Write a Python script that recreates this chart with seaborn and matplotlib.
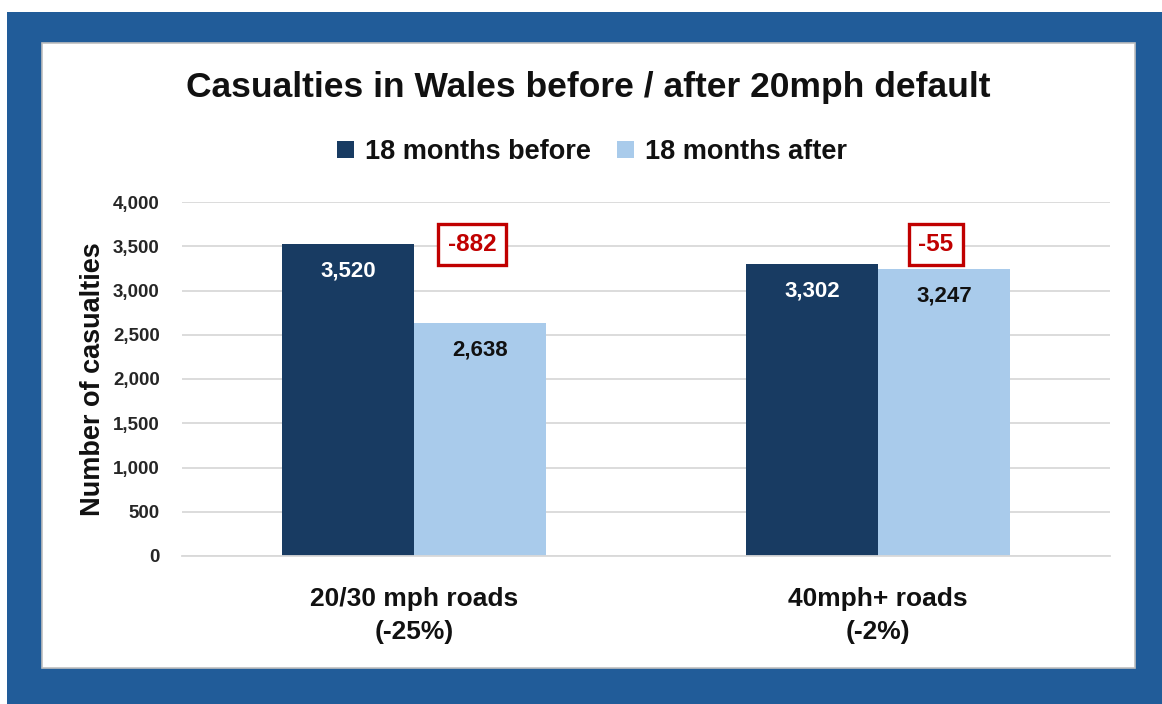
import matplotlib.pyplot as plt
import pandas as pd
import seaborn as sns
from matplotlib.patches import Rectangle

# data
roads = ["20/30 mph roads", "40mph+ roads"]
periods = ["18 months before", "18 months after"]
before = [3520, 3302]
after = [2638, 3247]

dark_blue = "#183B62"
light_blue = "#A9CBEB"
frame_blue = "#215C99"
box_red = "#C00000"

# long format for seaborn
df = pd.DataFrame({
    "road": roads * 2,
    "period": [periods[0]] * len(roads) + [periods[1]] * len(roads),
    "casualties": before + after,
})

# percent change for the tick labels, absolute change for the red boxes
change = [a - b for a, b in zip(after, before)]
pct = [round(c / b * 100) for c, b in zip(change, before)]
tick_labels = [f"{r}\n({p}%)" for r, p in zip(roads, pct)]

sns.set_style("white")
plt.rcParams["font.family"] = ["Liberation Sans", "DejaVu Sans"]
plt.rcParams["font.weight"] = "bold"

W, H = 1162, 704
fig = plt.figure(figsize=(W / 100, H / 100), dpi=100)

# blue frame and white panel behind the chart
fig.patches.append(Rectangle((7 / W, 0), 1 - 7 / W, 1 - 12 / H,
                             transform=fig.transFigure, facecolor=frame_blue,
                             edgecolor="none", zorder=-3))
fig.patches.append(Rectangle((42 / W, 1 - 668 / H), (1135 - 42) / W, (668 - 43) / H,
                             transform=fig.transFigure, facecolor="white",
                             edgecolor="#BFBFBF", linewidth=1.2, zorder=-2))

ax = fig.add_axes([182 / W, 1 - 556 / H, (1110 - 182) / W, (556 - 202) / H])
ax.set_facecolor("none")

sns.barplot(
    data=df, x="road", y="casualties", hue="period",
    palette=[dark_blue, light_blue], saturation=1,
    width=0.57, gap=0, linewidth=0, ax=ax,
)

ax.set_xlim(-0.5, 1.5)
ax.set_ylim(0, 4000)
ax.set_yticks(range(0, 4001, 500))
ax.set_yticklabels([f"{v:,}" for v in range(0, 4001, 500)], fontsize=13.5, fontweight="bold")
ax.set_xticks(range(len(roads)))
ax.set_xticklabels(tick_labels, fontsize=19, fontweight="bold", linespacing=1.5)
ax.tick_params(axis="y", length=0, pad=16, colors="#262626")
ax.tick_params(axis="x", length=0, pad=22, colors="#111111")

ax.yaxis.grid(True, color="#D9D9D9", linewidth=1.3)
ax.set_axisbelow(True)
for side in ["left", "right", "top"]:
    ax.spines[side].set_visible(False)
ax.spines["bottom"].set_color("#D9D9D9")
ax.spines["bottom"].set_linewidth(1.3)

ax.set_xlabel("")
ax.set_ylabel("Number of casualties", fontsize=19.5, fontweight="bold", color="#111111")
ax.yaxis.set_label_coords((106 - 182) / 928, 0.5)

# value labels inside the top of each bar
for container, txt_color in zip(ax.containers, ["white", "#111111"]):
    for bar in container:
        h = bar.get_height()
        ax.annotate(f"{h:,.0f}", xy=(bar.get_x() + bar.get_width() / 2, h),
                    xytext=(0, -27), textcoords="offset pixels",
                    ha="center", va="center", fontsize=16,
                    fontweight="bold", color=txt_color)

# red boxes with the change, level with the tallest "before" bar
for i, c in enumerate(change):
    ax.text(i + 0.125, max(before), f"{c:,}", ha="center", va="center",
            fontsize=17.5, fontweight="bold", color=box_red,
            bbox=dict(boxstyle="square,pad=0.38", facecolor="white",
                      edgecolor=box_red, linewidth=2.4))

sns.move_legend(
    ax, "center", bbox_to_anchor=((592 - 182) / 928, (556 - 152) / 354),
    ncol=2, frameon=False, title=None, fontsize=19.5,
    handlelength=0.6, handleheight=0.6, handletextpad=0.4, columnspacing=1.0,
)
for t in ax.get_legend().get_texts():
    t.set_fontweight("bold")
    t.set_color("#111111")

fig.text(588 / W, 1 - 88 / H, "Casualties in Wales before / after 20mph default",
         ha="center", va="center", fontsize=25.5, fontweight="bold", color="#111111")

fig.savefig("out.png", dpi=100, facecolor="white")
